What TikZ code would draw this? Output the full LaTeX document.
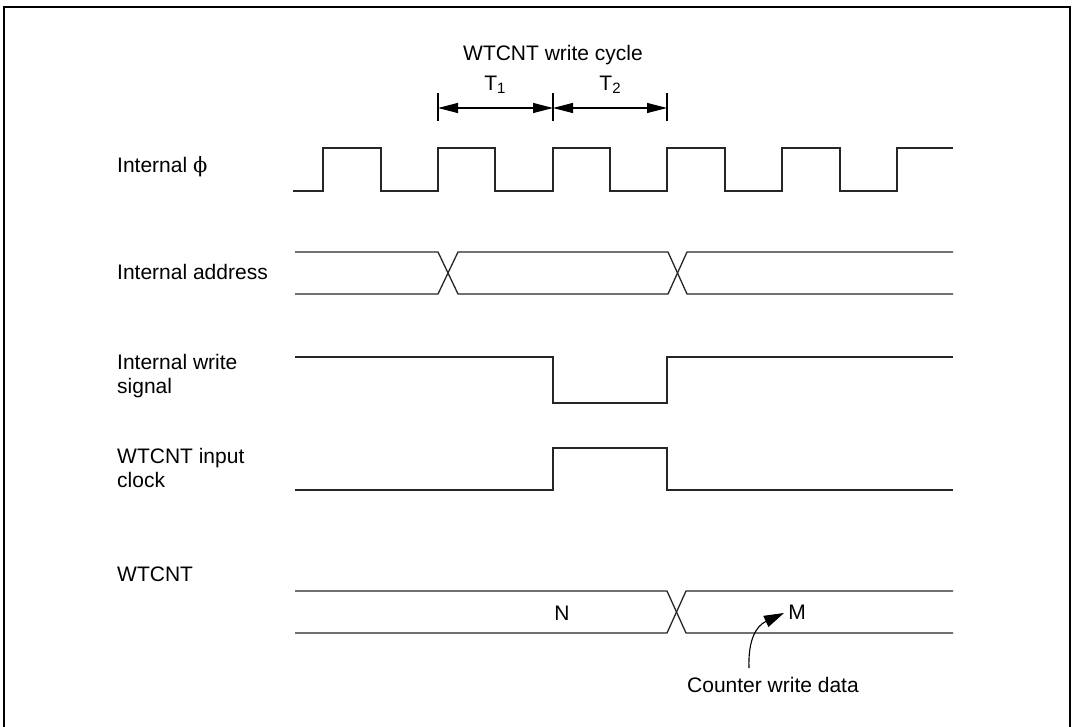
\documentclass[tikz,border=0pt]{standalone}
\usepackage{fontspec}
\setmainfont{Liberation Sans}
\newfontfamily\phifont{DejaVu Serif}
\usetikzlibrary{arrows.meta}
\newcommand{\mysub}[1]{\raisebox{-0.3ex}{\fontsize{15}{15}\selectfont #1}}
\begin{document}
\begin{tikzpicture}[x=1pt,y=-1pt,
  wave/.style={line width=1.3pt,color=black!85},
  lbl/.style={anchor=west,inner sep=0pt,font=\fontsize{21}{24}\selectfont,align=left},
  txt/.style={inner sep=0pt,font=\fontsize{21}{24}\selectfont},
  dim/.style={line width=1.1pt,{Triangle[length=20pt,width=10pt]}-{Triangle[length=20pt,width=10pt]}},
  tick/.style={line width=1.1pt}]
\useasboundingbox (0,0) rectangle (1073,727);
\draw[line width=2.2pt] (4,727) -- (4,7) -- (1070,7) -- (1070,727);
% labels
\node[lbl] (lphi) at (117,167) {Internal {\phifont ϕ}};
\node[lbl] (laddr) at (117,272) {Internal address};
\node[lbl] (lwr) at (117,376) {Internal write\\signal};
\node[lbl] (lclk) at (117,468) {WTCNT input\\clock};
\node[lbl] (lcnt) at (117,574) {WTCNT};
% header
\node[txt] (title) at (553,55) {WTCNT write cycle};
\coordinate (t0) at (438,108);
\coordinate (t1) at (553,108);
\coordinate (t2) at (667,108);
\draw[tick] (438,93) -- (438,121);
\draw[tick] (553,93) -- (553,121);
\draw[tick] (667,93) -- (667,121);
\draw[dim] (t0) -- (t1);
\draw[dim] (t1) -- (t2);
\node[txt] (T1) at (495,85) {T\mysub{1}};
\node[txt] (T2) at (610,85) {T\mysub{2}};
% clock
\draw[wave] (293,191) -- (323,191) -- (323,148) -- (381,148) -- (381,191)
  -- (438,191) -- (438,148) -- (495,148) -- (495,191)
  -- (553,191) -- (553,148) -- (610,148) -- (610,191)
  -- (667,191) -- (667,148) -- (725,148) -- (725,191)
  -- (782,191) -- (782,148) -- (840,148) -- (840,191)
  -- (897,191) -- (897,148) -- (953,148);
% address
\draw[wave] (295,252) -- (438,252) -- (458,294) -- (668,294) -- (687,252) -- (953,252);
\draw[wave] (295,294) -- (438,294) -- (458,252) -- (668,252) -- (687,294) -- (953,294);
% write signal
\draw[wave] (295,357) -- (553,357) -- (553,403) -- (667,403) -- (667,357) -- (953,357);
% input clock
\draw[wave] (295,490) -- (553,490) -- (553,448) -- (667,448) -- (667,490) -- (953,490);
% WTCNT
\draw[wave] (295,591) -- (667,591) -- (686,633) -- (953,633);
\draw[wave] (295,633) -- (667,633) -- (686,591) -- (953,591);
\node[txt] (N) at (562,613) {N};
\node[txt] (M) at (797,612) {M};
\node[txt,anchor=north west] (cwd) at (687,677) {Counter write data};
\coordinate (cs) at (749,668);
\draw[line width=1.1pt,-{Triangle[length=20pt,width=12pt]}] (cs) .. controls (748,640) and (756,626) .. (784,613);
\end{tikzpicture}
\end{document}
